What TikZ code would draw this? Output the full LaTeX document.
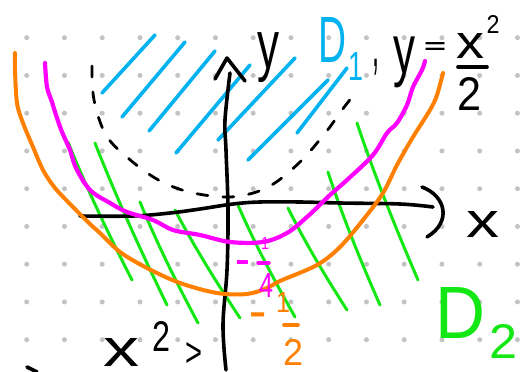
\documentclass[tikz,border=0pt]{standalone}
\usepackage{fontspec}
\setmainfont{Liberation Sans}
\setsansfont{Liberation Sans}
\usetikzlibrary{calc}
\definecolor{hwblue}{RGB}{0,178,240}
\definecolor{hwmag}{RGB}{255,0,255}
\definecolor{hworange}{RGB}{255,128,0}
\definecolor{hwgreen}{RGB}{20,232,20}
\definecolor{hwdot}{RGB}{195,195,195}
\newcommand\handtxt[3]{\resizebox*{#1}{#2}{#3}}
\begin{document}
\begin{tikzpicture}[x=1pt,y=-1pt,
  pen/.style={line width=3.6pt, line cap=round, line join=round},
  thinpen/.style={line width=3pt, line cap=round, line join=round},
  lbl/.style={inner sep=0pt, outer sep=0pt},
  minus/.style={inner sep=0pt, outer sep=0pt, anchor=north, font=\fontsize{10}{10}\selectfont\bfseries}]
\useasboundingbox (0,0) rectangle (523,372);
\clip (0,0) rectangle (523,372);
\fill[white] (0,0) rectangle (523,372);
% dot grid
\foreach \i in {0,...,13}
  \foreach \j in {0,...,8}
    \fill[hwdot] (26.7+37.75*\i, 37.7+37.75*\j) circle (2.5pt);

% blue hatching (D1)
\foreach \a/\b in {{102,93}/{155,35},{122,117}/{185,42},{149,131}/{215,51},
  {176,153}/{250,65},{218,140}/{295,58},{248,160}/{328,80},{297,133}/{347,68}}
  \draw[pen, hwblue] (\a) -- (\b);

% green hatching (D2)
\foreach \a/\b in {{68,142}/{132,280},{95,143}/{167,305},{140,202}/{198,323},
  {175,210}/{240,318},{238,205}/{295,317},{288,208}/{347,310},
  {328,172}/{380,305},{357,123}/{418,280}}
  \draw[thinpen, hwgreen] (\a) .. controls ($(\a)!0.35!(\b)+(-3,0)$) and ($(\a)!0.7!(\b)+(-2,0)$) .. (\b);

% dashed curve
\draw[pen, line width=2.8pt, dash pattern=on 11pt off 15pt]
  plot[smooth, tension=0.6] coordinates {(92,66) (94,100) (106,135) (128,158) (155,178) (182,190) (212,196) (240,196) (270,186) (300,162) (326,132) (342,110) (356,92)};

% axes
\draw[pen] plot[smooth, tension=0.6] coordinates {(80,216) (133,216) (170,213) (200,209) (233,204) (260,202) (300,202) (340,203) (400,204) (433,207)};
\draw[pen] (422,187) .. controls (446,196) and (452,222) .. (427,237);
\draw[pen] plot[smooth, tension=0.6] coordinates {(226,370) (223,325) (227,270) (228,210) (226,150) (225,120) (230,73)};
\draw[pen] (215,79) -- (227,58) -- (245,81);

% magenta curve
\draw[pen, line width=4.2pt, hwmag] plot[smooth, tension=0.55] coordinates {(45,63) (47,87) (52,102) (56,115) (62,132) (70,150) (76,168) (90,190) (110,203) (127,212) (153,220) (173,230) (200,235) (230,242) (263,242) (287,233) (307,217) (330,195) (347,180) (373,155) (387,133) (397,123) (407,105) (413,87) (422,70) (425,61)};

% orange curve
\draw[pen, line width=4pt, hworange] plot[smooth, tension=0.55] coordinates {(15,53) (15,70) (17,103) (23,123) (33,147) (43,170) (55,188) (73,207) (90,224) (100,233) (120,252) (147,268) (180,283) (217,293) (247,294) (267,288) (280,281) (317,265) (340,247) (363,220) (383,193) (397,165) (413,137) (430,110) (437,95) (443,73)};

% fraction bars
\draw[pen] (458,67) -- (487,67);
\draw[pen, line width=3.4pt, hwmag] (258,263) -- (269,263);
\draw[pen, line width=3.6pt, hworange] (284,325) -- (298,325);
% fragment at bottom left
\draw[pen] (27,367) -- (37,372);

% labels
\node[lbl] (ylab) at (268,58) {\handtxt{22pt}{50pt}{y}};
\node[lbl, text=hwblue] (dA) at (333,39.5) {\handtxt{28pt}{45pt}{D}};
\node[lbl, text=hwblue] (dAsub) at (356,66) {\handtxt{15pt}{28pt}{1}};
\node[lbl] (comma) at (376,67) {\handtxt{7pt}{16pt}{,}};
\node[lbl] (yeq) at (404,62) {\handtxt{22pt}{51pt}{y}};
\node[lbl] (eq) at (435,48) {\handtxt{22pt}{11pt}{\bfseries =}};
\node[lbl] (xnum) at (470,46) {\handtxt{28pt}{25pt}{x}};
\node[lbl] (xsup) at (493,24) {\handtxt{13pt}{18pt}{2}};
\node[lbl] (den) at (469,93.5) {\handtxt{24pt}{33pt}{2}};
\node[lbl] (xlab) at (482.5,224.5) {\handtxt{33pt}{26pt}{x}};
\node[lbl, text=hwgreen] (dB) at (461,312.5) {\handtxt{50pt}{51pt}{D}};
\node[lbl, text=hwgreen] (dBsub) at (503.5,341.5) {\handtxt{28pt}{34pt}{2}};
% -1/4 (magenta)
\node[minus, text=hwmag] (mminus) at (243,261) {\scalebox{2.2}[3.6]{−}};
\node[lbl, text=hwmag] (mone) at (265,243.5) {\handtxt{8pt}{12pt}{1}};
\node[lbl, text=hwmag] (mfour) at (266,285) {\handtxt{14pt}{24pt}{4}};
% -1/2 (orange)
\node[minus, text=hworange] (ominus) at (258.5,313) {\scalebox{2.6}[3.8]{−}};
\node[lbl, text=hworange] (oone) at (283,302.5) {\handtxt{14pt}{20pt}{1}};
\node[lbl, text=hworange] (otwo) at (293,352.5) {\handtxt{20pt}{26pt}{2}};
% bottom-left fragment x^2 >
\node[lbl] (xb) at (121,352.5) {\handtxt{36pt}{28pt}{x}};
\node[lbl] (xbsup) at (161.5,336.5) {\handtxt{18pt}{30pt}{2}};
\node[lbl] (gt) at (194,354) {\handtxt{17pt}{24pt}{>}};
\end{tikzpicture}
\end{document}
